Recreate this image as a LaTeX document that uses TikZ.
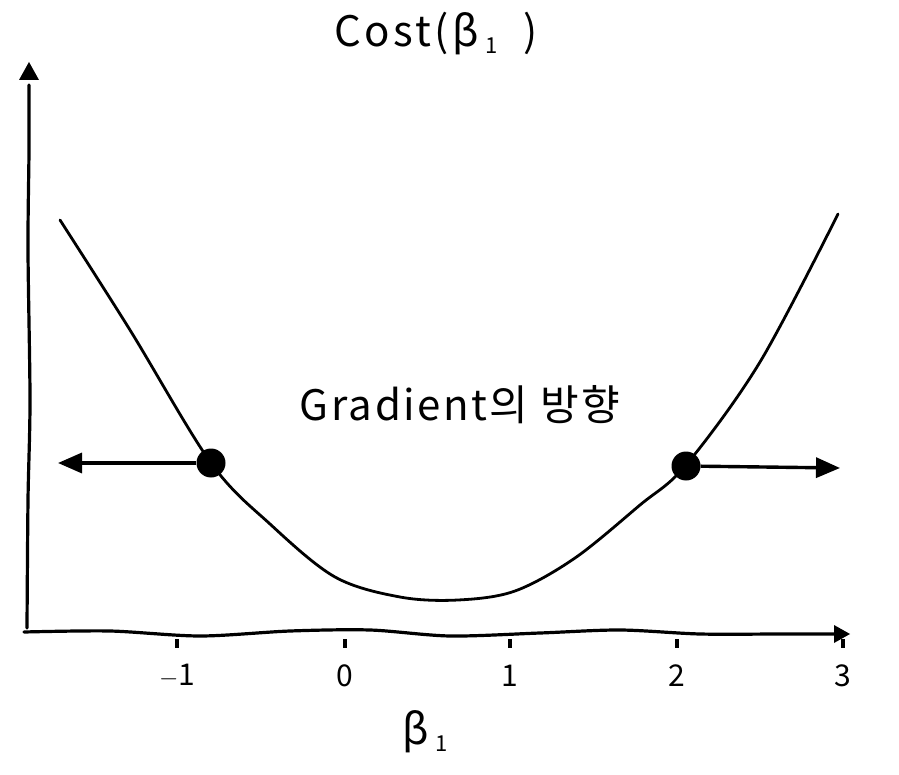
\documentclass[tikz,border=0pt]{standalone}
\usepackage{fontspec}
\setmainfont{Noto Sans CJK KR}
\usetikzlibrary{arrows.meta}
\tikzset{
  ax/.style={line width=3.2pt,line cap=round},
  curve/.style={line width=2.8pt,line cap=round},
  dot/.style={circle,fill=black,minimum size=29pt,inner sep=0pt},
  grad/.style={line width=3.4pt,-{Triangle[length=24pt,width=20pt]}},
  tick/.style={line width=4pt},
  lab/.style={font=\fontsize{30}{32}\selectfont\addfontfeatures{LetterSpace=8}},
  big/.style={font=\fontsize{42}{46}\selectfont\addfontfeatures{LetterSpace=8}},
}
\begin{document}
\begin{tikzpicture}[x=1pt,y=-1pt]
\useasboundingbox (0,0) rectangle (899,775);
% axes
\coordinate (o) at (27,632);
\coordinate (ytip) at (29,62);
\coordinate (xtip) at (850,634);
\draw[ax] plot[smooth] coordinates {(27,628) (28,500) (30,400) (28,250) (29,150) (29,85)};
\fill (ytip) -- (19,80) -- (39,80) -- cycle;
\draw[ax] plot[smooth] coordinates {(24,632) (110,631) (200,636) (290,631) (370,630) (450,636) (540,633) (620,630) (700,634) (780,634) (835,634)};
\fill (xtip) -- (834,625) -- (834,643) -- cycle;
% ticks
\foreach \x/\t in {177/{$-$1},345/0,510/1,677/2,843/3}{
  \draw[tick] (\x,639) -- (\x,648);
  \node[lab] at (\x,676) {\t};
}
% labels
\node[big] (xl) at (425,732) {β\raisebox{-0.3ex}{\fontsize{22}{24}\selectfont\ 1}};
\node[big] (yl) at (436,34) {Cost(β\raisebox{-0.3ex}{\fontsize{22}{24}\selectfont\ 1}\ \ )};
\node[font=\fontsize{42}{46}\selectfont\addfontfeatures{LetterSpace=6}] (gt) at (460,405) {Gradient의 방향};
% curve
\draw[curve] plot[smooth,tension=0.55] coordinates {(60,220) (130,330) (211,463) (270,524) (335,577) (400,597) (458,600) (515,591) (575,558) (640,505) (686,465) (760,362) (838,214)};
% dots and arrows
\node[dot] (d1) at (211,463) {};
\node[dot] (d2) at (686,466) {};
\coordinate (la) at (58,463);
\coordinate (ra) at (840,468);
\draw[grad] (d1) -- (la);
\draw[grad] (d2) -- (ra);
\end{tikzpicture}
\end{document}
